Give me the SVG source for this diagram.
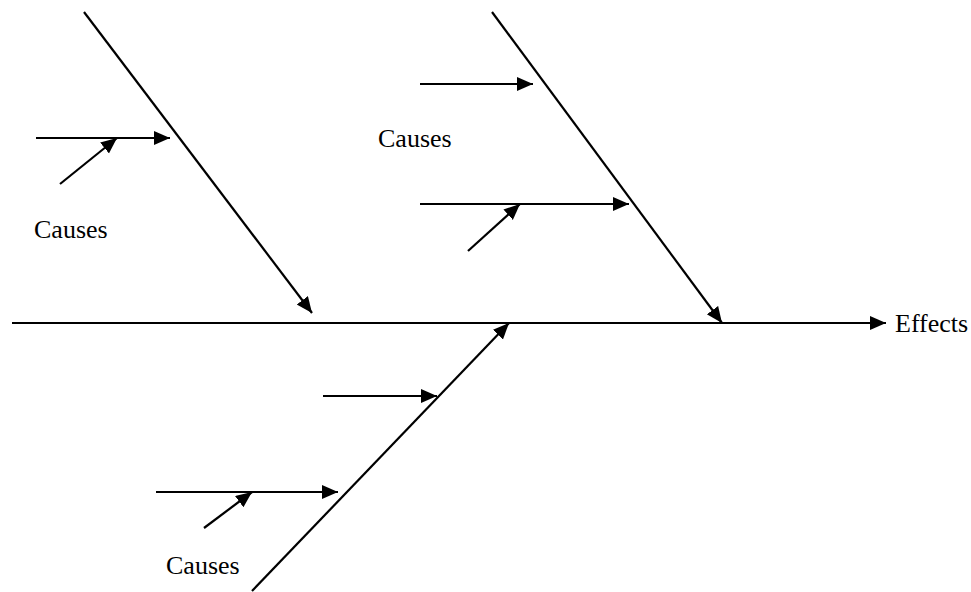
<svg xmlns="http://www.w3.org/2000/svg" width="971" height="592" viewBox="0 0 971 592">
<style>
.ln{stroke:#000;stroke-width:2.2;fill:none}
.ar{marker-end:url(#ah)}
.lbl{font-family:"Liberation Serif","Times New Roman",serif;font-size:26px;fill:#000}
</style>
<defs>
<marker id="ah" markerUnits="userSpaceOnUse" markerWidth="17" markerHeight="15" refX="16" refY="7" orient="auto">
<path d="M0,0 L16,7 L0,14 z" fill="#000"/>
</marker>
</defs>
<rect width="971" height="592" fill="#fff"/>
<g id="connectors">
<line id="spine" class="ln ar" x1="12" y1="323" x2="886" y2="323"/>
<line id="bone-left" class="ln ar" x1="84" y1="12" x2="312" y2="313"/>
<line id="bone-right" class="ln ar" x1="492" y1="12" x2="722" y2="323"/>
<line id="bone-bottom" class="ln ar" x1="252" y1="591" x2="509" y2="323"/>
<line class="ln ar" x1="36" y1="138" x2="170" y2="138"/>
<line class="ln ar" x1="60" y1="184" x2="117" y2="138"/>
<line class="ln ar" x1="420" y1="84" x2="533" y2="84"/>
<line class="ln ar" x1="420" y1="204" x2="629" y2="204"/>
<line class="ln ar" x1="468" y1="251" x2="520" y2="204"/>
<line class="ln ar" x1="323" y1="396" x2="437" y2="396"/>
<line class="ln ar" x1="156" y1="492" x2="338" y2="492"/>
<line class="ln ar" x1="204" y1="528" x2="252" y2="492"/>
</g>
<g id="causes-left"><text class="lbl" x="34" y="238">Causes</text></g>
<g id="causes-right"><text class="lbl" x="378" y="147">Causes</text></g>
<g id="causes-bottom"><text class="lbl" x="166" y="574">Causes</text></g>
<g id="effects"><text class="lbl" x="895" y="332">Effects</text></g>
</svg>
